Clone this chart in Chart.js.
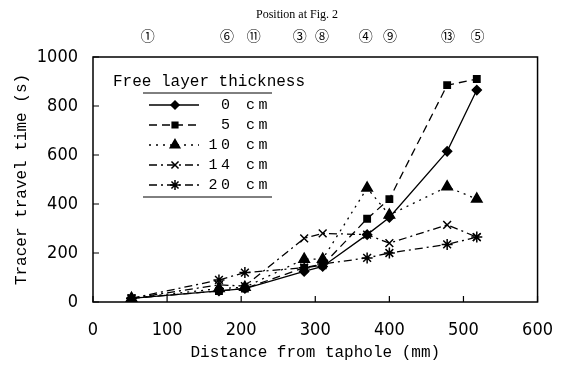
<!DOCTYPE html>
<html>
<head>
<meta charset="utf-8">
<script src="https://cdn.jsdelivr.net/npm/chart.js@4.4.1/dist/chart.umd.min.js"></script>
<style>
  html, body { margin: 0; padding: 0; background: #fff; }
  canvas { display: block; }
</style>
</head>
<body>
<canvas id="travelChart" width="571" height="365"></canvas>
<script>
// distance from taphole (mm) of each sampling position
const distance = [52, 170, 205, 285, 310, 370, 400, 478, 518];

// tracer travel time (s) for each free layer thickness
const time0cm  = [15, 45, 55, 125, 145, 275, 345, 615, 865];
const time5cm  = [15, 45, 55, 140, 150, 340, 420, 885, 910];
const time10cm = [15, 55, 60, 175, 175, 465, 355, 470, 420];
const time14cm = [15, 70, 65, 260, 280, 275, 240, 315, 265];
const time20cm = [15, 90, 120, 140, 155, 180, 200, 235, 265];

const seriesLabels = ['0 cm', '5 cm', '10 cm', '14 cm', '20 cm'];

// circled position numbers shown along the top, and where they sit (mm)
const positionLabels = ['\u2460', '\u2465', '\u246A', '\u2462', '\u2467', '\u2463', '\u2468', '\u246C', '\u2464'];
const positionAt = [74, 181, 217, 279, 309, 368, 401, 479, 519];

const monoFont = "'Liberation Mono', 'DejaVu Sans Mono', monospace";
const narrowFont = "'Liberation Sans Narrow', 'DejaVu Sans Condensed', sans-serif";

function toPoints(values) {
    return values.map((v, i) => ({ x: distance[i], y: v }));
}

// frame, inward tick marks, header and the boxed legend
const framePlugin = {
    id: 'framePlugin',
    afterDraw(chart) {
        const ctx = chart.ctx;
        const area = chart.chartArea;
        const xs = chart.scales.x;
        const ys = chart.scales.y;
        ctx.save();
        ctx.strokeStyle = '#000';
        ctx.lineWidth = 1.5;
        ctx.setLineDash([]);
        ctx.strokeRect(area.left, area.top, area.right - area.left, area.bottom - area.top);

        ctx.lineWidth = 1.2;
        ctx.beginPath();
        xs.ticks.forEach(t => {
            const px = xs.getPixelForValue(t.value);
            ctx.moveTo(px, area.bottom);
            ctx.lineTo(px, area.bottom - 6);
        });
        ys.ticks.forEach(t => {
            const py = ys.getPixelForValue(t.value);
            ctx.moveTo(area.left, py);
            ctx.lineTo(area.left + 6, py);
        });
        ctx.stroke();

        // header above the circled numbers
        ctx.fillStyle = '#000';
        ctx.font = "12px 'Liberation Serif', serif";
        ctx.textAlign = 'center';
        ctx.textBaseline = 'middle';
        ctx.fillText('Position at Fig. 2', 297, 15);

        // legend
        const lx = area.left + 20;
        const ly = area.top + 25;
        ctx.font = '16px ' + monoFont;
        ctx.textAlign = 'left';
        ctx.fillText('Free layer thickness', lx, ly);
        ctx.lineWidth = 1;
        ctx.beginPath();
        ctx.moveTo(lx + 30, ly + 11);
        ctx.lineTo(lx + 159, ly + 11);
        ctx.moveTo(lx + 30, ly + 115);
        ctx.lineTo(lx + 159, ly + 115);
        ctx.stroke();

        ctx.font = '15px ' + monoFont;
        ctx.letterSpacing = '3.5px';
        ctx.textAlign = 'right';
        chart.data.datasets.forEach((ds, i) => {
            const y = ly + 23 + i * 20;
            ctx.strokeStyle = '#000';
            ctx.lineWidth = ds.borderWidth;
            ctx.setLineDash(ds.borderDash || []);
            ctx.beginPath();
            ctx.moveTo(lx + 36, y);
            ctx.lineTo(lx + 86, y);
            ctx.stroke();
            ctx.setLineDash([]);
            ctx.fillStyle = '#000';
            ctx.lineWidth = ds.pointBorderWidth;
            Chart.helpers.drawPoint(ctx, {
                pointStyle: ds.pointStyle,
                radius: ds.pointRadius - 0.5,
                borderWidth: ds.pointBorderWidth
            }, lx + 62, y);
            ctx.fillText(ds.label, lx + 158, y);
        });
        ctx.restore();
    }
};

function makeDataset(label, values, style, radius, dash) {
    return {
        label: label,
        data: toPoints(values),
        borderColor: '#000',
        backgroundColor: '#000',
        borderWidth: 1.3,
        borderDash: dash,
        pointStyle: style,
        pointRadius: radius,
        pointHoverRadius: radius,
        pointBorderWidth: 1.5,
        pointBackgroundColor: '#000',
        pointBorderColor: '#000',
        fill: false,
        tension: 0
    };
}

const ctx = document.getElementById('travelChart').getContext('2d');
new Chart(ctx, {
    type: 'line',
    data: {
        datasets: [
            makeDataset(seriesLabels[0], time0cm, 'rectRot', 4.5, []),
            makeDataset(seriesLabels[1], time5cm, 'rect', 4.5, [8, 5]),
            makeDataset(seriesLabels[2], time10cm, 'triangle', 6, [2, 5]),
            makeDataset(seriesLabels[3], time14cm, 'crossRot', 5.5, [8, 4, 2, 4]),
            makeDataset(seriesLabels[4], time20cm, 'star', 5.5, [8, 4, 2, 4])
        ]
    },
    options: {
        responsive: false,
        animation: false,
        layout: { padding: { left: 0, right: 18, top: 0, bottom: 0 } },
        plugins: {
            legend: { display: false },
            tooltip: { enabled: false }
        },
        scales: {
            x: {
                type: 'linear',
                position: 'bottom',
                min: 0,
                max: 600,
                ticks: {
                    stepSize: 100,
                    color: '#000',
                    padding: 18,
                    font: { family: narrowFont, size: 18 }
                },
                grid: { display: false, drawTicks: false },
                border: { display: false },
                title: {
                    display: true,
                    text: 'Distance from taphole (mm)',
                    color: '#000',
                    font: { family: monoFont, size: 16 },
                    padding: { top: 0, bottom: 3 }
                },
                afterFit: scale => { scale.height = 63; }
            },
            top: {
                type: 'linear',
                position: 'top',
                min: 0,
                max: 600,
                afterBuildTicks: axis => {
                    axis.ticks = positionAt.map(v => ({ value: v }));
                },
                ticks: {
                    autoSkip: false,
                    maxRotation: 0,
                    color: '#000',
                    padding: 11,
                    font: { family: "'Liberation Serif', 'Noto Sans CJK JP', serif", size: 14 },
                    callback: (value, index) => positionLabels[index]
                },
                grid: { display: false, drawTicks: false },
                border: { display: false },
                afterFit: scale => { scale.height = 57; }
            },
            y: {
                min: 0,
                max: 1000,
                ticks: {
                    stepSize: 200,
                    color: '#000',
                    padding: 15,
                    font: { family: narrowFont, size: 18 },
                    callback: value => String(value)
                },
                grid: { display: false, drawTicks: false },
                border: { display: false },
                title: {
                    display: true,
                    text: 'Tracer travel time (s)',
                    color: '#000',
                    font: { family: monoFont, size: 16 },
                    padding: { top: 12, bottom: 0 }
                },
                afterFit: scale => { scale.height; scale.width = 93; }
            }
        }
    },
    plugins: [framePlugin]
});
</script>
</body>
</html>
